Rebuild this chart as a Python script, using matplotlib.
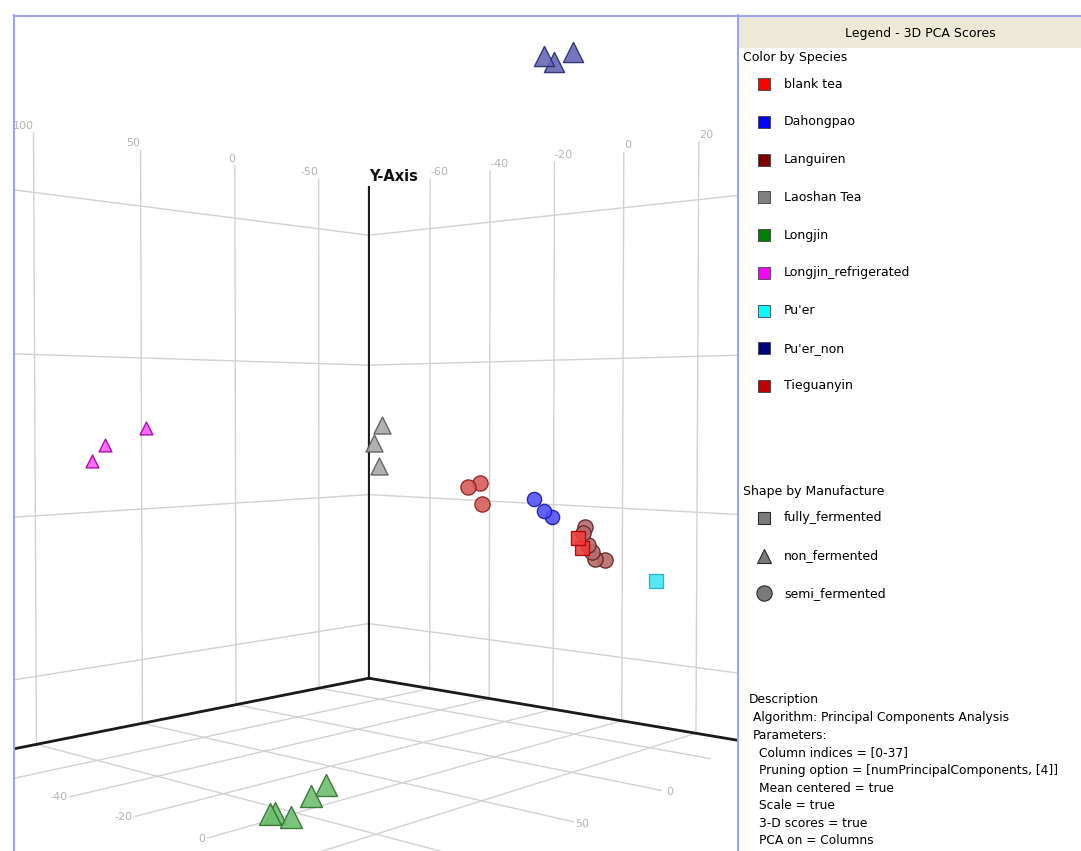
import matplotlib
matplotlib.use('Agg')
import matplotlib.pyplot as plt
from matplotlib.patches import Rectangle

plt.rcParams['font.family'] = ['DejaVu Sans']
plt.rcParams['grid.color'] = '#d2d2d2'
plt.rcParams['grid.linewidth'] = 1.0

# PCA scores: X (left wall), Z (right wall), Y (vertical)
species = ['blank tea', 'Dahongpao', 'Languiren', 'Laoshan Tea', 'Longjin',
           'Longjin_refrigerated', "Pu'er", "Pu'er_non", 'Tieguanyin']
species_colors = ['#ff0000', '#0000ff', '#800000', '#808080', '#008000',
                  '#ff00ff', '#00ffff', '#000080', '#c00000']
manufactures = ['fully_fermented', 'non_fermented', 'semi_fermented']

group_species = ['blank tea', 'Dahongpao', 'Languiren', 'Laoshan Tea', 'Longjin',
                 'Longjin_refrigerated', "Pu'er", "Pu'er_non", 'Tieguanyin']
group_manuf = ['fully_fermented', 'semi_fermented', 'semi_fermented', 'non_fermented',
               'non_fermented', 'non_fermented', 'fully_fermented', 'non_fermented',
               'semi_fermented']
group_x = [[-44.6, -47.2],
           [-51.0, -57.6, -63.0],
           [-49.2, -47.8, -51.3, -53.9, -55.9, -62.7],
           [1.0, 5.5, 2.7],
           [112.0, 109.6, 108.6, 90.0, 78.0],
           [61.0, 80.7, 86.6],
           [-59.4],
           [40.4, 35.1, 24.7],
           [-9.5, -16.6, -18.4]]
group_z = [[3, 3],
           [-12, -12, -12],
           [3, 3, 3, 3, 3, 3],
           [-32, -32, -32],
           [0.7, 0.4, 3.9, -1.9, -5.0],
           [-72, -72, -72],
           [18],
           [30, 30, 30],
           [-12, -12, -12]]
group_y = [[-3.0, -4.4],
           [1.4, -0.3, -1.2],
           [-1.7, -2.5, -4.1, -5.1, -6.0, -6.3],
           [11.2, 8.9, 6.0],
           [-27.7, -27.8, -27.9, -27.6, -27.5],
           [10.8, 8.8, 6.8],
           [-8.3],
           [50.1, 49.8, 51.5],
           [3.6, 4.0, 1.3]]

x_lim = (-83, 130)
z_lim = (-82, 35)
y_lim = (-28.5, 47.4)
x_ticks = [-50, 0, 50, 100]
z_ticks = [-60, -40, -20, 0, 20]
y_ticks = [-20, 0, 20, 40]
# the floor labels that fall inside the visible panel
x_floor_ticks = [0, 50]
z_floor_ticks = [-60, -40, -20, 0]

# marker look (lighter face, darker rim like the shaded 3D glyphs)
face = {'blank tea': '#ee3c3c', 'Dahongpao': '#5252ff', 'Languiren': '#b86a6a',
        'Laoshan Tea': '#a9a9a9', 'Longjin': '#6fbf6f', 'Longjin_refrigerated': '#ff5cff',
        "Pu'er": '#44e6f2', "Pu'er_non": '#6767b8', 'Tieguanyin': '#d65c5c'}
rim = {'blank tea': '#b00000', 'Dahongpao': '#1a1aa0', 'Languiren': '#5e2424',
       'Laoshan Tea': '#5a5a5a', 'Longjin': '#2f6f2f', 'Longjin_refrigerated': '#a000a0',
       "Pu'er": '#2ab0c0', "Pu'er_non": '#2a2a70', 'Tieguanyin': '#8a2020'}
size = {'blank tea': 110, 'Dahongpao': 105, 'Languiren': 120, 'Laoshan Tea': 150,
        'Longjin': 250, 'Longjin_refrigerated': 85, "Pu'er": 88, "Pu'er_non": 210,
        'Tieguanyin': 120}
shape = {'fully_fermented': 's', 'non_fermented': '^', 'semi_fermented': 'o'}

W, H = 1081, 851
fig = plt.figure(figsize=(W / 100, H / 100), dpi=100)

# 3D axes: a square bigger than the visible panel, centre of box at (cx, cy)
S = 981.6
cx, cy = 369.4, 440.3
ax = fig.add_axes([(cx - 0.5135 * S) / W, (H - cy - 0.5135 * S) / H, S / W, S / H],
                  projection='3d')
ax.set_proj_type('persp', focal_length=0.278)
ax.view_init(elev=1.24, azim=42.6)
ax.set_box_aspect((0.3132, 0.2889, 0.334))
ax.set_xlim(*x_lim)
ax.set_ylim(*z_lim)
ax.set_zlim(*y_lim)
ax.set_xticks(x_ticks)
ax.set_yticks(z_ticks)
ax.set_zticks(y_ticks)
for axis in (ax.xaxis, ax.yaxis, ax.zaxis):
    axis.set_tick_params(label1On=False, label2On=False)
    axis.label.set_visible(False)
    axis.set_pane_color((1, 1, 1, 1))
    axis.pane.set_edgecolor((1, 1, 1, 0))
    axis.line.set_color((0, 0, 0, 0))
    axis.offsetText.set_visible(False)
    axis._axinfo['grid'].update(color='#d2d2d2', linewidth=1.0)
    axis._axinfo['tick']['inward_factor'] = 0
    axis._axinfo['tick']['outward_factor'] = 0

# back corner edges
ax.plot([x_lim[0]] * 2, [z_lim[0]] * 2, y_lim, color='#1a1a1a', lw=1.5)
ax.plot(x_lim, [z_lim[0]] * 2, [y_lim[0]] * 2, color='#1a1a1a', lw=2)
ax.plot([x_lim[0]] * 2, z_lim, [y_lim[0]] * 2, color='#1a1a1a', lw=2)

for sp, mf, xs, zs, ys in zip(group_species, group_manuf, group_x, group_z, group_y):
    ax.scatter(xs, zs, ys, marker=shape[mf], s=size[sp], c=face[sp],
               edgecolors=rim[sp], linewidths=1.0, alpha=0.9, depthshade=False)

# tick labels on the wall tops and on the floor
lab = dict(color='#b4b4b4', fontsize=8)
for t in x_ticks:
    ax.text(t, z_lim[0], y_lim[1] + 0.2, str(t), ha='right', va='bottom', **lab)
for t in z_ticks:
    ax.text(x_lim[0], t, y_lim[1] + 0.2, str(t), ha='left', va='bottom', **lab)
for t in x_floor_ticks:
    ax.plot([t, t], [z_lim[1], z_lim[1] + 6], [y_lim[0]] * 2, color='#d2d2d2', lw=1)
    ax.text(t, z_lim[1] + 8, y_lim[0], str(t), ha='center', va='center', **lab)
for t in z_floor_ticks:
    ax.plot([x_lim[1], x_lim[1] + 6], [t, t], [y_lim[0]] * 2, color='#d2d2d2', lw=1)
    ax.text(x_lim[1] + 7, t, y_lim[0], str(t), ha='right', va='center', **lab)
ax.text(x_lim[0], z_lim[0], y_lim[1] + 0.5, 'Y-Axis', ha='left', va='bottom',
        fontsize=10.5, fontweight='bold', color='#111111')

# overlay in pixel units: frame, legend panel, description
fax = fig.add_axes([0, 0, 1, 1], zorder=10)
fax.set_xlim(0, W)
fax.set_ylim(H, 0)
fax.axis('off')
fax.add_patch(Rectangle((0, 0), 13, H, fc='white', ec='none'))
fax.add_patch(Rectangle((0, 0), W, 15, fc='white', ec='none'))
fax.add_patch(Rectangle((737, 0), W - 737, H, fc='white', ec='none'))
fax.add_patch(Rectangle((739, 16), W - 739, 32, fc='#ece9d8', ec='none'))
border = '#a3a3f5'
fax.plot([13.5, 13.5], [15, H], color=border, lw=1.5)
fax.plot([13.5, W], [15.5, 15.5], color=border, lw=1.5)
fax.plot([737.5, 737.5], [15, H], color=border, lw=1.5)

fax.text(920, 33, 'Legend - 3D PCA Scores', ha='center', va='center', fontsize=9)
fax.text(743, 57, 'Color by Species', ha='left', va='center', fontsize=9)
for i, (name, col) in enumerate(zip(species, species_colors)):
    yy = 84 + 37.75 * i
    fax.plot(764, yy, marker='s', ms=8.5, mfc=col, mec='#404040', mew=0.6)
    fax.text(784, yy, name, ha='left', va='center', fontsize=9)

fax.text(743, 492, 'Shape by Manufacture', ha='left', va='center', fontsize=9)
for i, mf in enumerate(manufactures):
    yy = 518 + 37.6 * i
    ms = {'s': 8, '^': 10, 'o': 11}[shape[mf]]
    fax.plot(764, yy, marker=shape[mf], ms=ms, mfc='#7a7a7a', mec='#2a2a2a', mew=0.8)
    fax.text(784, yy, mf, ha='left', va='center', fontsize=9)

desc = [(749, 'Description'),
        (753, 'Algorithm: Principal Components Analysis'),
        (753, 'Parameters:'),
        (759, 'Column indices = [0-37]'),
        (759, 'Pruning option = [numPrincipalComponents, [4]]'),
        (759, 'Mean centered = true'),
        (759, 'Scale = true'),
        (759, '3-D scores = true'),
        (759, 'PCA on = Columns')]
for i, (xx, line) in enumerate(desc):
    fax.text(xx, 700 + 17.6 * i, line, ha='left', va='center', fontsize=8.8)

fig.savefig('out.png', dpi=100)
